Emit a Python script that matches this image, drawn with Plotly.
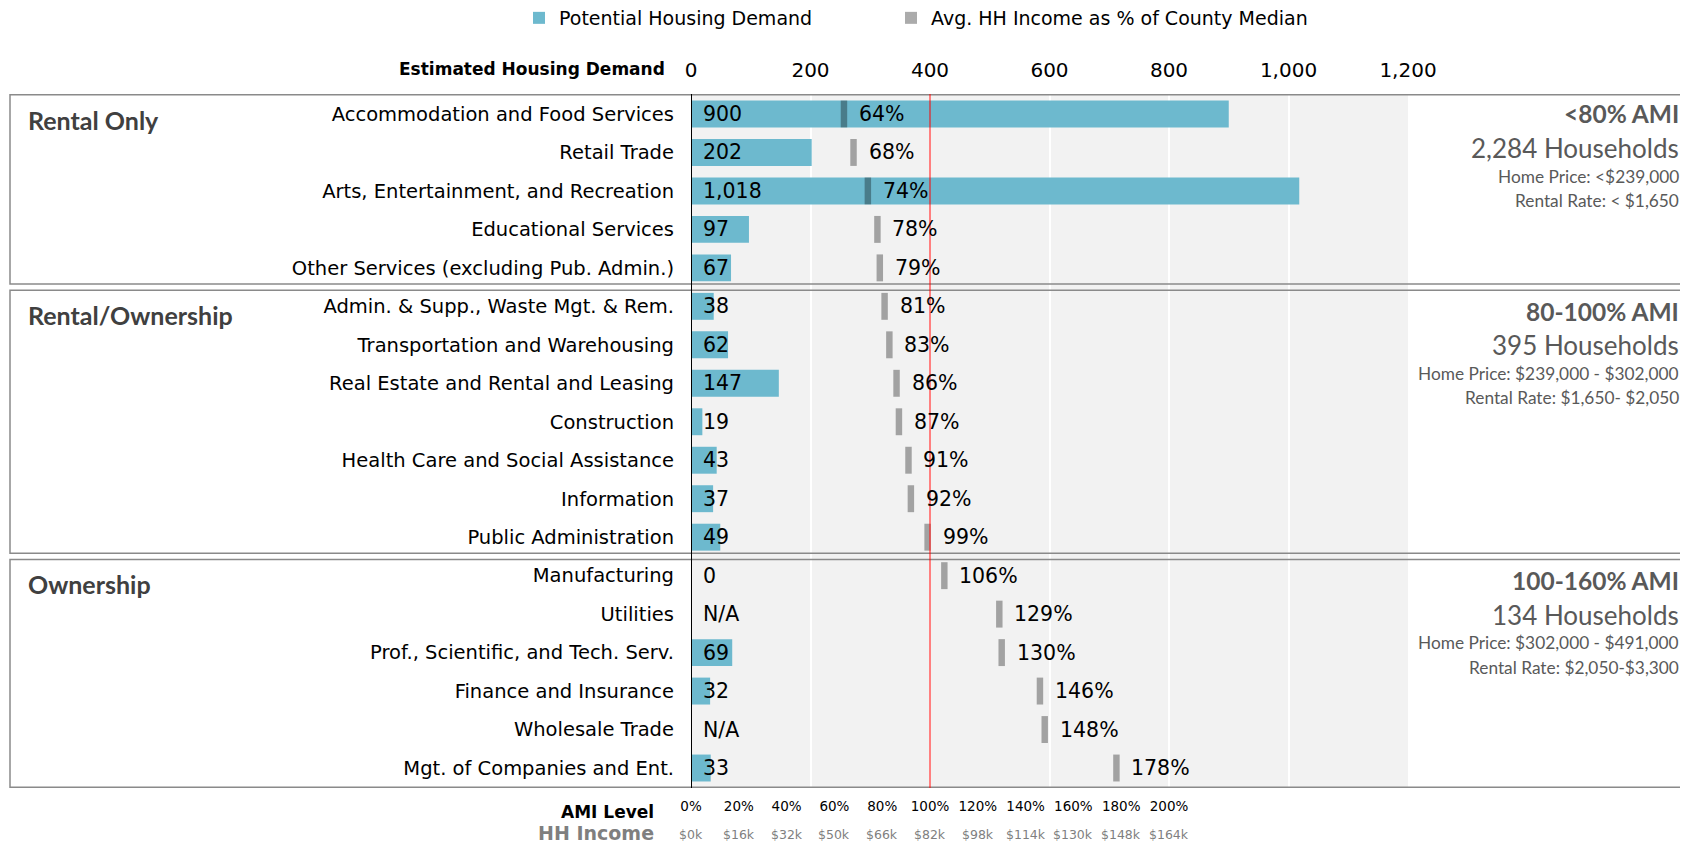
import plotly.graph_objects as go

# ---------------- data ----------------
categories = [
    "Accommodation and Food Services",
    "Retail Trade",
    "Arts, Entertainment, and Recreation",
    "Educational Services",
    "Other Services (excluding Pub. Admin.)",
    "Admin. & Supp., Waste Mgt. & Rem.",
    "Transportation and Warehousing",
    "Real Estate and Rental and Leasing",
    "Construction",
    "Health Care and Social Assistance",
    "Information",
    "Public Administration",
    "Manufacturing",
    "Utilities",
    "Prof., Scientific, and Tech. Serv.",
    "Finance and Insurance",
    "Wholesale Trade",
    "Mgt. of Companies and Ent.",
]
demand = [900, 202, 1018, 97, 67, 38, 62, 147, 19, 43, 37, 49, 0, None, 69, 32, None, 33]
ami_pct = [64, 68, 74, 78, 79, 81, 83, 86, 87, 91, 92, 99, 106, 129, 130, 146, 148, 178]

section_names = ["Rental Only", "Rental/Ownership", "Ownership"]
section_sizes = [5, 7, 6]
ami_bands = ["<80% AMI", "80-100% AMI", "100-160% AMI"]
households = ["2,284 Households", "395 Households", "134 Households"]
home_price = ["Home Price: <$239,000", "Home Price: $239,000 - $302,000",
              "Home Price: $302,000 - $491,000"]
rental_rate = ["Rental Rate: < $1,650", "Rental Rate: $1,650- $2,050",
               "Rental Rate: $2,050-$3,300"]

demand_ticks = [0, 200, 400, 600, 800, 1000, 1200]
ami_ticks = [0, 20, 40, 60, 80, 100, 120, 140, 160, 180, 200]
income_ticks = ["$0k", "$16k", "$32k", "$50k", "$66k", "$82k", "$98k",
                "$114k", "$130k", "$148k", "$164k"]
county_median_pct = 100

# ---------------- styles ----------------
OFF = 8                     # page body margin
W, H = 1688 - OFF, 844 - OFF
ML, MT = 691 - OFF, 94 - OFF
MR = W - (1408 - OFF)
MB = H - (788 - OFF)
PW, PH = W - ML - MR, H - MT - MB
FONT = "DejaVu Sans"
SIDE_FONT = "Lato"
BLUE = "#6db9ce"
MARK = "rgba(0,0,0,0.33)"
MARK_W = 2.7   # width of income marker, in % units
BAR_W = 0.7


def px_to_paper_x(px):
    return (px - OFF - ML) / PW


def px_to_paper_y(py):
    return (H - MB - (py - OFF)) / PH


fig = go.Figure()

fig.add_trace(go.Bar(
    y=categories, x=demand, orientation="h", name="Potential Housing Demand",
    marker=dict(color=BLUE, line=dict(width=0)), width=BAR_W,
    xaxis="x", yaxis="y", hoverinfo="skip", legend="legend",
))
fig.add_trace(go.Bar(
    y=categories, x=[MARK_W] * len(ami_pct), base=[p - MARK_W / 2 for p in ami_pct],
    orientation="h", name="Avg. HH Income as % of County Median",
    marker=dict(color=MARK, line=dict(width=0)), width=BAR_W,
    xaxis="x2", yaxis="y", hoverinfo="skip", legend="legend2",
))

annotations = []
# bar value labels
for c, v in zip(categories, demand):
    annotations.append(dict(
        x=0, y=c, xref="x", yref="y", xanchor="left", xshift=10,
        text="N/A" if v is None else f"{v:,}", showarrow=False,
        font=dict(family=FONT, size=20.5, color="#000"),
    ))
# percentage labels
for c, p in zip(categories, ami_pct):
    annotations.append(dict(
        x=p, y=c, xref="x2", yref="y", xanchor="left", xshift=13,
        text=f"{p}%", showarrow=False,
        font=dict(family=FONT, size=20.5, color="#000"),
    ))

shapes = []
start = 0
gap = 0.08
for i, (name, size) in enumerate(zip(section_names, section_sizes)):
    top = start - 0.5 + (gap if i > 0 else 0)
    bottom = start + size - 0.5 - (gap if i < len(section_sizes) - 1 else 0)
    shapes.append(dict(
        type="rect", xref="paper", yref="y",
        x0=px_to_paper_x(10), x1=px_to_paper_x(1700), y0=top, y1=bottom,
        line=dict(color="#8a8a8a", width=1.5), fillcolor="rgba(0,0,0,0)", layer="above",
    ))
    shift = 0 if i == 0 else 0.13
    annotations.append(dict(
        x=px_to_paper_x(26), y=start + 0.15 + shift / 2, xref="paper", yref="y",
        xanchor="left", text=f"<b>{name}</b>", showarrow=False,
        font=dict(family=SIDE_FONT, size=25, color="#404040"),
    ))
    side = [
        (f"<b>{ami_bands[i]}</b>", 24.5, 0.0),
        (households[i], 26, 0.88),
        (home_price[i], 17.3, 1.62),
        (rental_rate[i], 17.3, 2.25),
    ]
    for txt, sz, dy in side:
        annotations.append(dict(
            x=px_to_paper_x(1681), y=start + dy + shift, xref="paper", yref="y",
            xanchor="right", text=txt, showarrow=False,
            font=dict(family=SIDE_FONT, size=sz, color="#595959"),
        ))
    start += size

# axis line at zero and county-median line
shapes.append(dict(type="line", xref="x", yref="paper", x0=0, x1=0, y0=0, y1=1,
                   line=dict(color="#000", width=2), layer="above"))
shapes.append(dict(type="line", xref="x2", yref="paper", x0=county_median_pct,
                   x1=county_median_pct, y0=0, y1=1,
                   line=dict(color="#ff0000", width=1), layer="above"))

# axis titles
annotations.append(dict(
    x=px_to_paper_x(667), y=px_to_paper_y(69), xref="paper", yref="paper",
    xanchor="right", yanchor="middle", text="<b>Estimated Housing Demand</b>",
    showarrow=False, font=dict(family=FONT, size=17, color="#000"),
))
annotations.append(dict(
    x=px_to_paper_x(656), y=px_to_paper_y(812), xref="paper", yref="paper",
    xanchor="right", yanchor="middle", text="<b>AMI Level</b>",
    showarrow=False, font=dict(family=FONT, size=17, color="#000"),
))
annotations.append(dict(
    x=px_to_paper_x(656), y=px_to_paper_y(833), xref="paper", yref="paper",
    xanchor="right", yanchor="middle", text="<b>HH Income</b>",
    showarrow=False, font=dict(family=FONT, size=19, color="#7f7f7f"),
))
for a, inc in zip(ami_ticks, income_ticks):
    annotations.append(dict(
        x=a, y=px_to_paper_y(834), xref="x2", yref="paper",
        xanchor="center", yanchor="middle", text=inc, showarrow=False,
        font=dict(family=FONT, size=12.5, color="#7f7f7f"),
    ))

legend_style = dict(
    orientation="h", xref="container", yref="container",
    y=1 - 10 / H, xanchor="left", yanchor="middle",
    font=dict(family=FONT, size=19, color="#000"),
    bgcolor="rgba(0,0,0,0)", itemclick=False, itemdoubleclick=False,
)

fig.update_layout(
    width=W, height=H,
    margin=dict(l=ML, r=MR, t=MT, b=MB, autoexpand=False),
    paper_bgcolor="white", plot_bgcolor="#f2f2f2",
    barmode="overlay", bargap=0.3,
    font=dict(family=FONT, size=18, color="#000"),
    showlegend=True,
    legend=dict(x=(535 - 16 - OFF) / W, **legend_style),
    legend2=dict(x=(907 - 16 - OFF) / W, **legend_style),
    xaxis=dict(
        side="top", range=[0, 1200], tickvals=demand_ticks, tickformat=",",
        showgrid=True, gridcolor="white", gridwidth=2, zeroline=False,
        showline=False, ticks="", ticklabelstandoff=12,
        tickfont=dict(family=FONT, size=20, color="#000"),
        fixedrange=True,
    ),
    xaxis2=dict(
        overlaying="x", side="bottom", anchor="y", range=[0, 300],
        tickvals=ami_ticks, ticktext=[f"{a}%" for a in ami_ticks],
        showgrid=False, zeroline=False, showline=False, ticks="",
        ticklabelstandoff=8,
        tickfont=dict(family=FONT, size=13.5, color="#000"), fixedrange=True,
    ),
    yaxis=dict(
        categoryorder="array", categoryarray=categories, autorange="reversed",
        showgrid=False, zeroline=False, showline=False, ticks="",
        ticklabelstandoff=16,
        tickfont=dict(family=FONT, size=19.5, color="#000"), fixedrange=True,
    ),
    shapes=shapes, annotations=annotations,
)

fig.write_html("out.html")
